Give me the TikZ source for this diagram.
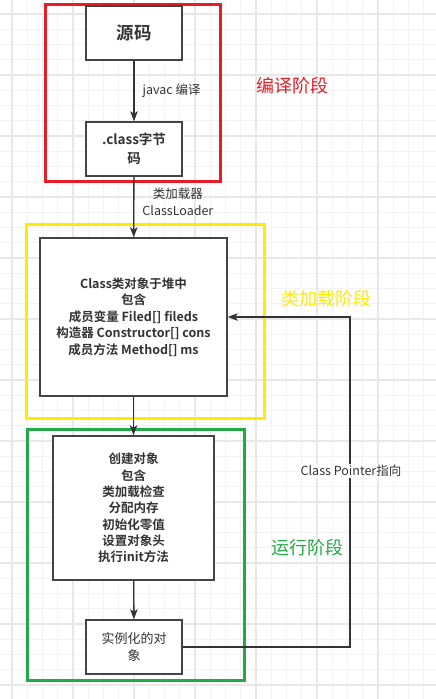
\documentclass[tikz,border=0pt]{standalone}
\usepackage{fontspec}
\setmainfont{Noto Sans CJK SC}[BoldFont={Noto Sans CJK SC Bold}]
\usetikzlibrary{arrows.meta}
\definecolor{inkgray}{HTML}{333333}
\definecolor{boxgray}{HTML}{444444}
\definecolor{phasered}{HTML}{E81C24}
\definecolor{phaseyellow}{HTML}{FFEB00}
\definecolor{phasegreen}{HTML}{22AA48}
\definecolor{gridminor}{HTML}{F3F3F3}
\definecolor{gridmajor}{HTML}{E8E8E8}
\begin{document}
\begin{tikzpicture}[x=1pt,y=-1pt,
    stage/.style={draw=boxgray,line width=1.5pt,fill=white,align=center,text=inkgray,inner sep=0pt},
    flow/.style={draw=inkgray,line width=1.3pt,-{Stealth[length=10pt,width=7.5pt,inset=2.5pt]}},
    frame/.style={line width=3pt},
    lbl/.style={font=\fontsize{12.5}{17}\selectfont,text=inkgray,align=center},
    phase/.style={font=\fontsize{18}{20}\selectfont}]
  \useasboundingbox[fill=white] (0,0) rectangle (436,699);
  \foreach \k in {0,...,29} \draw[gridminor,line width=1pt] (-3.25+15.25*\k,0) -- ++(0,699);
  \foreach \k in {0,...,46} \draw[gridminor,line width=1pt] (0,-1.25+15.25*\k) -- ++(436,0);
  \foreach \k in {0,...,7} \draw[gridmajor,line width=1.2pt] (12+61*\k,0) -- ++(0,699);
  \foreach \k in {0,...,11} \draw[gridmajor,line width=1.2pt] (0,14+61*\k) -- ++(436,0);

  \draw[frame,phasered] (45,4) rectangle (220,181);
  \draw[frame,phaseyellow] (26,224) rectangle (264,418);
  \draw[frame,phasegreen] (27,429) rectangle (244,680);

  \node[stage,minimum width=96,minimum height=54,font=\fontsize{17.5}{20}\selectfont\bfseries] (src) at (134,33) {源码};
  \node[stage,minimum width=96,minimum height=54,font=\fontsize{13.5}{19}\selectfont\bfseries] (bytecode) at (134,149) {.class字节\\码};
  \node[stage,minimum width=187,minimum height=158,font=\fontsize{12.5}{16.5}\selectfont\bfseries] (classobj) at (133.5,317)
    {Class类对象于堆中\\包含\\成员变量 Filed[] fileds\\构造器 Constructor[] cons\\成员方法 Method[] ms};
  \node[stage,minimum width=161,minimum height=144,font=\fontsize{12.5}{16.3}\selectfont\bfseries] (newobj) at (133.5,508)
    {创建对象\\包含\\类加载检查\\分配内存\\初始化零值\\设置对象头\\执行init方法};
  \node[stage,minimum width=96,minimum height=54,font=\fontsize{13}{17}\selectfont] (inst) at (134,647) {实例化的对\\象};

  \draw[flow] (src) -- node[lbl,anchor=west,inner sep=0pt,xshift=8pt] {javac 编译} (bytecode);
  \draw[flow] (bytecode) -- node[lbl,anchor=west,inner sep=0pt,xshift=8pt,pos=0.42] {类加载器\\ClassLoader} (classobj);
  \draw[flow] (classobj) -- (newobj);
  \draw[flow] (newobj) -- (inst);

  \coordinate (ptr) at (350,317);
  \draw[flow] (inst.east) -| (ptr) -- (classobj.east);
  \node[lbl,fill=white,inner sep=1pt] (ptrlbl) at (351,471) {Class Pointer指向};

  \node[phase,text=phasered] (compile) at (292,86) {编译阶段};
  \node[phase,text=phaseyellow] (loading) at (326,299) {类加载阶段};
  \node[phase,text=phasegreen] (running) at (307,548) {运行阶段};
\end{tikzpicture}
\end{document}
